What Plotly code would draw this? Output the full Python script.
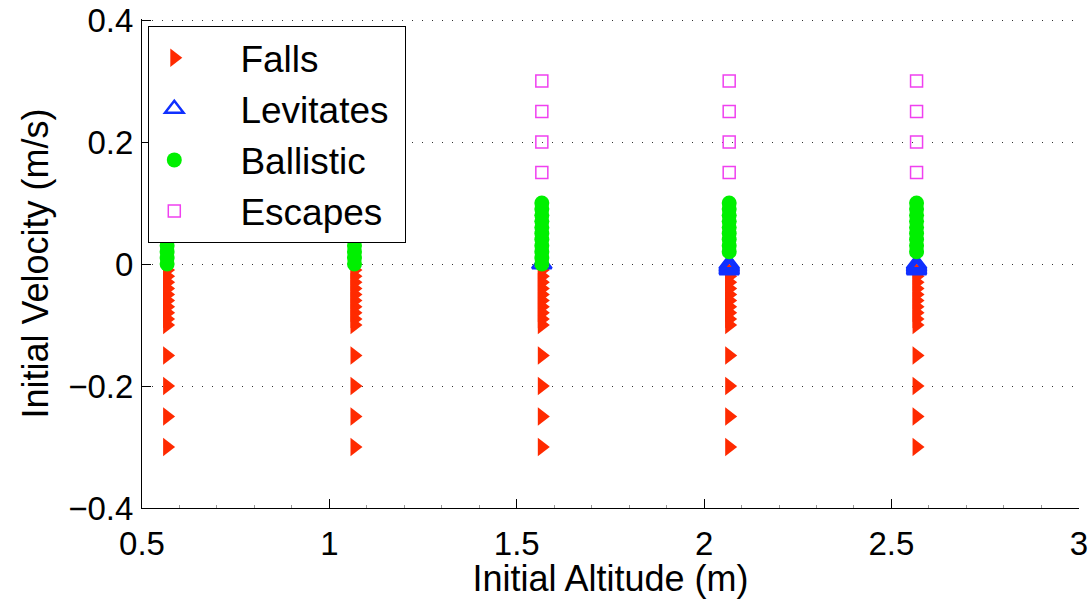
import plotly.graph_objects as go

# ---- data ----
altitudes = [0.567, 1.067, 1.567, 2.067, 2.567]

falls_per_column = [-0.01, -0.02, -0.03, -0.04, -0.05, -0.06, -0.07, -0.08, -0.09, -0.10,
                    -0.15, -0.20, -0.25, -0.30]

levitates_by_column = [
    [],
    [],
    [0.0],
    [0.0, -0.0025, -0.005, -0.0075, -0.01],
    [0.0, -0.0025, -0.005, -0.0075, -0.01],
]

ballistic_by_column = [
    [0.00, 0.01, 0.02, 0.03, 0.04, 0.05, 0.06, 0.07, 0.08, 0.09, 0.10],
    [0.00, 0.01, 0.02, 0.03, 0.04, 0.05, 0.06, 0.07, 0.08, 0.09, 0.10],
    [0.00, 0.01, 0.02, 0.03, 0.04, 0.05, 0.06, 0.07, 0.08, 0.09, 0.10],
    [0.02, 0.03, 0.04, 0.05, 0.06, 0.07, 0.08, 0.09, 0.10],
    [0.02, 0.03, 0.04, 0.05, 0.06, 0.07, 0.08, 0.09, 0.10],
]

escapes_per_column = [0.15, 0.20, 0.25, 0.30]

x_ticks = [0.5, 1, 1.5, 2, 2.5, 3]
y_ticks = [-0.4, -0.2, 0, 0.2, 0.4]


def expand_same(values):
    xs, ys = [], []
    for a in altitudes:
        for v in values:
            xs.append(a)
            ys.append(v)
    return xs, ys


def expand_cols(cols):
    xs, ys = [], []
    for a, vals in zip(altitudes, cols):
        for v in vals:
            xs.append(a)
            ys.append(v)
    return xs, ys


FONT = "Liberation Sans, Arial, Helvetica, sans-serif"
pad = "\u00a0" * 4

fig = go.Figure()

fx, fy = expand_same(falls_per_column)
fig.add_trace(go.Scatter(
    x=fx, y=fy, mode="markers", name=pad + "Falls",
    marker=dict(symbol="triangle-right", size=16, color="#FF2A00",
                line=dict(width=0))))

lx, ly = expand_cols(levitates_by_column)
fig.add_trace(go.Scatter(
    x=lx, y=ly, mode="markers", name=pad + "Levitates\u00a0",
    marker=dict(symbol="triangle-up-open", size=17, color="#1030FF",
                line=dict(width=2.5, color="#1030FF"))))

bx, by = expand_cols(ballistic_by_column)
fig.add_trace(go.Scatter(
    x=bx, y=by, mode="markers", name=pad + "Ballistic",
    marker=dict(symbol="circle", size=15, color="#00F000",
                line=dict(width=0))))

ex, ey = expand_same(escapes_per_column)
fig.add_trace(go.Scatter(
    x=ex, y=ey, mode="markers", name=pad + "Escapes",
    marker=dict(symbol="square-open", size=12, color="#F040F0",
                line=dict(width=1.5, color="#F040F0"))))

fig.update_layout(
    width=1088, height=599,
    margin=dict(l=142, r=9, t=19, b=91, autoexpand=False),
    paper_bgcolor="white", plot_bgcolor="white",
    font=dict(family=FONT, color="black", size=33),
    showlegend=True,
    legend=dict(
        x=0.0064, y=0.986, xanchor="left", yanchor="top",
        bgcolor="white", bordercolor="black", borderwidth=1.3,
        font=dict(size=37, family=FONT),
        itemwidth=40, tracegroupgap=0,
    ),
    xaxis=dict(
        range=[0.5, 3.0005], tickvals=x_ticks, ticks="inside", ticklen=9,
        tickcolor="black", showline=True, linecolor="black", linewidth=1,
        showgrid=False, zeroline=False, mirror=False, automargin=False,
        tickfont=dict(size=33), ticklabelstandoff=6,
        minor=dict(ticks="inside", ticklen=3, dtick=0.1, tickcolor="#999999", showgrid=False),
        title=dict(text="Initial Altitude (m)", font=dict(size=36), standoff=6),
    ),
    yaxis=dict(
        range=[-0.4, 0.4017], tickvals=y_ticks, ticks="inside", ticklen=9,
        tickcolor="black", showline=True, linecolor="black", linewidth=1,
        showgrid=True, gridcolor="#333333", gridwidth=1, griddash="1px,9px",
        zeroline=False, mirror=False, automargin=False,
        tickfont=dict(size=33), ticklabelstandoff=1,
        title=dict(text="Initial Velocity (m/s)", font=dict(size=36), standoff=8),
    ),
)

fig.write_html("out.html")
